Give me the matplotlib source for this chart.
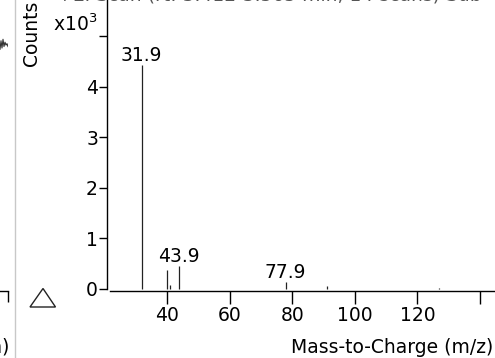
import matplotlib
matplotlib.use("Agg")
import matplotlib.pyplot as plt
from matplotlib.lines import Line2D
from matplotlib.patches import Polygon

plt.rcParams['font.family'] = ['DejaVu Sans']
plt.rcParams['mathtext.default'] = 'regular'

# ---- data ----
mz = [31.9, 39.9, 41.0, 43.9, 77.9, 91.0, 126.9]
counts = [4430, 380, 80, 450, 130, 50, 20]
labelled = [31.9, 43.9, 77.9]
y_ticks = [0, 1000, 2000, 3000, 4000, 5000]
y_tick_labels = ["0", "1", "2", "3", "4", ""]
x_ticks = [40, 60, 80, 100, 120, 140]
x_tick_labels = ["40", "60", "80", "100", "120", ""]
# fragment of the neighbouring (cropped) chromatogram panel
left_trace_x = [-6, -4, -2, -1, 0, 1, 2, 3, 4, 5, 6, 7, 8]
left_trace_y = [0.84, 0.845, 0.84, 0.85, 0.83, 0.86, 0.835, 0.865, 0.84, 0.855, 0.845, 0.85, 0.84]
title_text = "+EI Scan (rt: 3.412-3.565 min, 14 scans) Sub"
xlabel = "Mass-to-Charge (m/z)"
left_xlabel = "Acquisition Time (min)"
ylabel = "Counts"

W, H = 495, 358
fig = plt.figure(figsize=(W / 100, H / 100), dpi=100)

def fx(px):
    return px / W

def fy(py):
    return 1 - py / H

FS = 13.5

# main spectrum axes
ax = fig.add_axes([fx(107), fy(291), fx(495) - fx(107), fy(0) - fy(291)])
ax.set_xlim(20.83, 144.8)
ax.set_ylim(-40, 5711)
ax.vlines(mz, 0, counts, color='#222222', lw=0.9)
for m, c in zip(mz, counts):
    if m in labelled:
        ax.text(m, c, f"{m:.1f}", ha='center', va='bottom', fontsize=FS)
for s in ['top', 'right']:
    ax.spines[s].set_visible(False)
ax.spines['left'].set_linewidth(1.0)
ax.spines['bottom'].set_linewidth(1.0)
ax.spines['bottom'].set_bounds(21.8, 144.8)
ax.spines['left'].set_bounds(0, 5711)
ax.set_yticks(y_ticks)
ax.set_yticklabels(y_tick_labels, fontsize=FS)
ax.set_xticks(x_ticks)
ax.set_xticklabels(x_tick_labels, fontsize=FS)
ax.tick_params(axis='y', direction='out', length=6, width=1.0, pad=0.5)
ax.tick_params(axis='x', direction='out', length=9, width=1.0, pad=2)
ax.patch.set_visible(False)

# neighbouring panel fragment on the left
axl = fig.add_axes([fx(-20), fy(291), fx(8) - fx(-20), fy(0) - fy(291)])
axl.set_xlim(-20, 8)
axl.set_ylim(0, 1)
axl.plot(left_trace_x, left_trace_y, color='#333333', lw=0.8)
for s in ['top', 'right', 'left']:
    axl.spines[s].set_visible(False)
axl.spines['bottom'].set_linewidth(1.0)
axl.set_yticks([])
axl.set_xticks([8])
axl.set_xticklabels([""])
axl.tick_params(axis='x', direction='out', length=8, width=1.0)
axl.patch.set_visible(False)

# separator between panels
fig.add_artist(Line2D([fx(14.5), fx(14.5)], [0, 1], color='#c8c8c8', lw=1.0))

# triangle marker
fig.add_artist(Polygon([[fx(30), fy(307)], [fx(55.5), fy(307)], [fx(43), fy(288.5)]],
                       closed=True, fill=False, edgecolor='#222222', lw=1.0))

# texts
fig.text(fx(31), fy(33), ylabel, rotation=90, ha='center', va='center', fontsize=FS)
fig.text(fx(53), fy(31), r"x10$^3$", ha='left', va='baseline', fontsize=FS)
fig.text(fx(493), fy(353), xlabel, ha='right', va='baseline', fontsize=FS)
fig.text(fx(9), fy(353), left_xlabel, ha='right', va='baseline', fontsize=FS)
fig.text(fx(482), fy(0.2), title_text, ha='right', va='baseline', fontsize=FS, color='#555555')

fig.savefig("out.png", dpi=100)
